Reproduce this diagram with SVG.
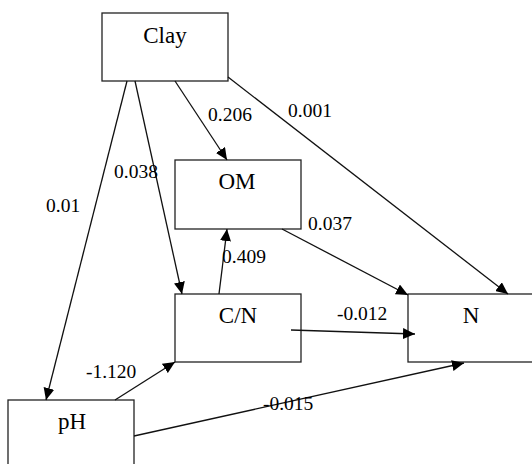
<svg xmlns="http://www.w3.org/2000/svg" width="532" height="464" viewBox="0 0 532 464">
<defs>
<marker id="ah" markerUnits="userSpaceOnUse" markerWidth="13" markerHeight="11" refX="12" refY="5.5" orient="auto">
<path d="M0,0 L12,5.5 L0,11 Z" fill="#000"/>
</marker>
<style>
.box{fill:#fff;stroke:#222;stroke-width:1.3}
.nt{font-family:"Liberation Serif","Times New Roman",serif;font-size:23px;text-anchor:middle;fill:#000}
.lb{font-family:"Liberation Serif","Times New Roman",serif;font-size:19.5px;fill:#000}
.ed{stroke:#111;stroke-width:1.3;fill:none;marker-end:url(#ah)}
</style>
</defs>
<rect width="532" height="464" fill="#fff"/>
<g id="nodes">
<g id="clay"><rect class="box" x="102" y="13" width="126" height="68"/><text class="nt" x="165" y="43">Clay</text></g>
<g id="om"><rect class="box" x="175" y="160" width="126" height="69"/><text class="nt" x="237" y="189">OM</text></g>
<g id="cn"><rect class="box" x="175" y="294" width="126" height="68"/><text class="nt" x="238" y="323">C/N</text></g>
<g id="n"><rect class="box" x="408" y="294" width="130" height="68"/><text class="nt" x="471" y="323">N</text></g>
<g id="ph"><rect class="box" x="8" y="400" width="126" height="70"/><text class="nt" x="72" y="429">pH</text></g>
</g>
<g id="connectors">
<line class="ed" x1="127" y1="81" x2="46" y2="400"/>
<line class="ed" x1="135" y1="81" x2="182" y2="294"/>
<line class="ed" x1="175" y1="81" x2="227" y2="160"/>
<line class="ed" x1="228" y1="77" x2="508" y2="294"/>
<line class="ed" x1="282" y1="229" x2="408" y2="295"/>
<line class="ed" x1="219" y1="294" x2="227" y2="229"/>
<line class="ed" x1="291" y1="330" x2="415" y2="334"/>
<line class="ed" x1="115" y1="400" x2="175" y2="362"/>
<line class="ed" x1="134" y1="436" x2="464" y2="363"/>
</g>
<g id="labels">
<text class="lb" x="208" y="121">0.206</text>
<text class="lb" x="288" y="117">0.001</text>
<text class="lb" x="114" y="178">0.038</text>
<text class="lb" x="46" y="212">0.01</text>
<text class="lb" x="308" y="230">0.037</text>
<text class="lb" x="222" y="263">0.409</text>
<text class="lb" x="86" y="378">-1.120</text>
<text class="lb" x="337" y="320">-0.012</text>
<text class="lb" x="263" y="410">-0.015</text>
</g>
</svg>
